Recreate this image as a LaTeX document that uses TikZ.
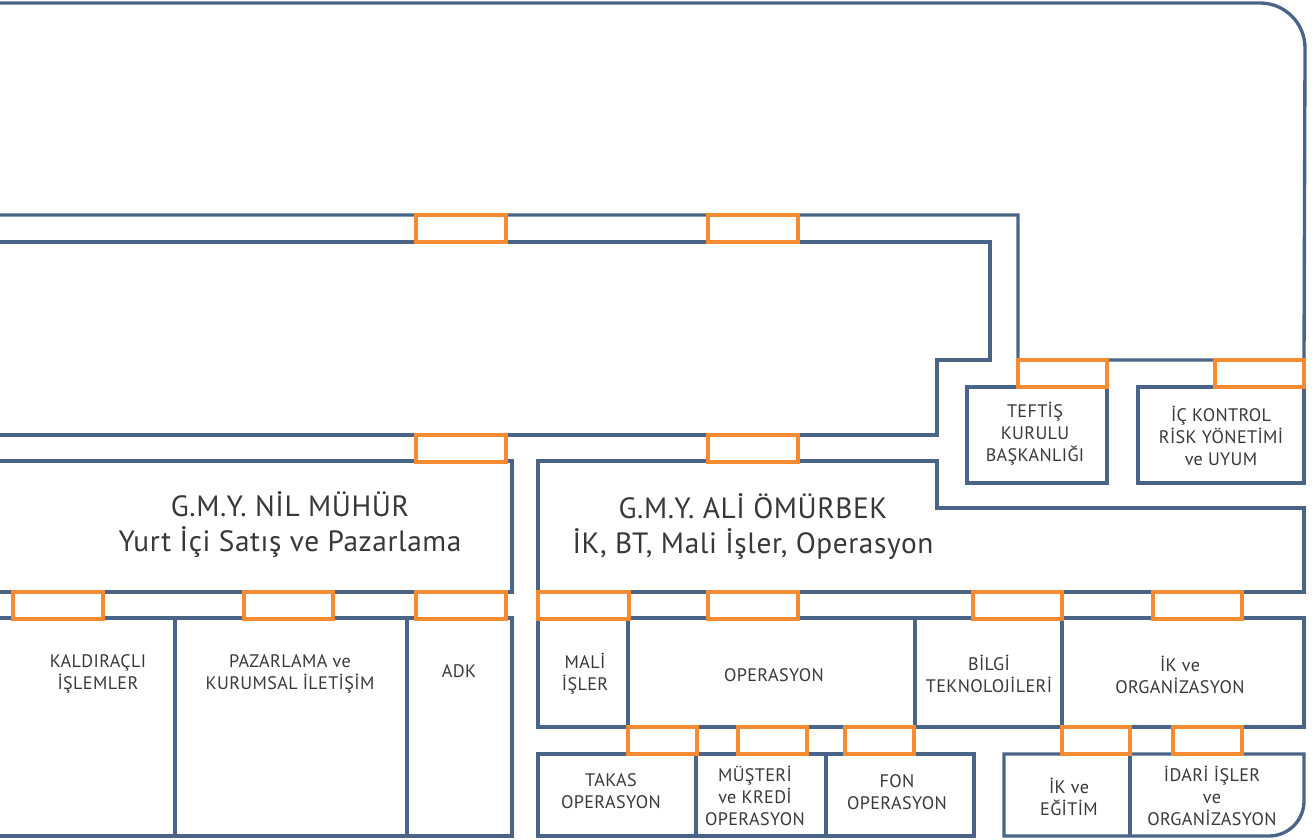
\documentclass[tikz,border=0pt]{standalone}
\usepackage{fontspec}
\setmainfont{PT Sans}[LetterSpace=2]
\definecolor{frameblue}{HTML}{4A6487}
\definecolor{linkorange}{HTML}{F68B32}
\definecolor{txtgray}{HTML}{383838}

\begin{document}
\begin{tikzpicture}[x=0.75pt, y=-0.75pt, line join=miter,
    frame/.style={draw=frameblue, line width=2.5pt},
    link/.style={draw=linkorange, line width=2.4pt, fill=white},
    unit/.style={text=txtgray, align=center, inner sep=0pt, font=\fontsize{13.6}{16.5}\selectfont},
    head/.style={text=txtgray, align=center, inner sep=0pt, font=\fontsize{22}{26.3}\selectfont}]

    \useasboundingbox (0,0) rectangle (1312,839);

    % Define link height
    \def\h{27}

    % Outer frame
    \draw[frame] (0,3) -- (1260,3) arc[start angle=-90, end angle=0, radius=45]
        -- (1304,360) -- (1018,360) -- (1018,215) -- (0,215);
    \draw[frame] (0,242) -- (990,242) -- (990,360) -- (937,360) -- (937,435) -- (0,435);

    % Teftis and ic kontrol
    \draw[frame] (967,387) rectangle (1107,483);
    \draw[frame] (1138,387) rectangle (1304,483);
    \node[unit] (teftis) at (1035,434) {TEFTİŞ\\KURULU\\BAŞKANLIĞI};
    \node[unit] (ickontrol) at (1221,436) {İÇ KONTROL\\RİSK YÖNETİMİ\\ve UYUM};

    % G.M.Y. boxes
    \draw[frame] (0,461) -- (512,461) -- (512,592) -- (0,592);
    \draw[frame] (538,592) -- (538,461) -- (937,461) -- (937,508) -- (1304,508) -- (1304,592) -- cycle;
    \node[head] (nil) at (290,525) {G.M.Y. NİL MÜHÜR\\Yurt İçi Satış ve Pazarlama};
    \node[head] (ali) at (753,527) {G.M.Y. ALİ ÖMÜRBEK\\İK, BT, Mali İşler, Operasyon};

    % Units under Nil Muhur
    \draw[frame] (0,618) -- (512,618) -- (512,836) -- (0,836);
    \draw[frame] (175,618) -- (175,836);
    \draw[frame] (407,618) -- (407,836);
    \node[unit] (kaldiracli) at (98,674) {KALDIRAÇLI\\İŞLEMLER};
    \node[unit] (pazarlama) at (290,674) {PAZARLAMA ve\\KURUMSAL İLETİŞİM};
    \node[unit] (adk) at (459,671) {ADK};

    % Units under Ali Omurbek
    \draw[frame] (538,618) rectangle (1304,727);
    \foreach \xd in {628, 915, 1062}
        \draw[frame] (\xd,618) -- (\xd,727);
    \node[unit] (mali) at (585,674) {MALİ\\İŞLER};
    \node[unit] (operasyon) at (774,675) {OPERASYON};
    \node[unit] (bilgi) at (989,674) {BİLGİ\\TEKNOLOJİLERİ};
    \node[unit] (ikorg) at (1180,675) {İK ve\\ORGANİZASYON};

    % Operasyon teams
    \draw[frame] (538,754) rectangle (974,836);
    \draw[frame] (696,754) -- (696,836);
    \draw[frame] (826,754) -- (826,836);
    \node[unit] (takas) at (611,791) {TAKAS\\OPERASYON};
    \node[unit] (musteri) at (755,796) {MÜŞTERİ\\ve KREDİ\\OPERASYON};
    \node[unit] (fon) at (897,792) {FON\\OPERASYON};

    % IK teams
    \draw[frame] (1004,754) -- (1304,754) -- (1304,801) arc[start angle=0, end angle=90, radius=35]
        -- (1004,836) -- cycle;
    \draw[frame] (1130,754) -- (1130,836);
    \node[unit] (ikegitim) at (1069,797) {İK ve\\EĞİTİM};
    \node[unit] (idari) at (1212,796) {İDARİ İŞLER\\ve\\ORGANİZASYON};

    % Links
    \foreach \xa/\xb/\ya in {416/506/215, 708/798/215, 416/506/435, 708/798/435,
        1018/1107/360, 1215/1304/360,
        13/103/592, 244/333/592, 416/506/592,
        538/629/592, 708/798/592, 973/1062/592, 1153/1242/592,
        628/697/727, 738/807/727, 845/914/727, 1062/1130/727, 1173/1242/727}
        \draw[link] (\xa,\ya) rectangle (\xb,\ya+\h);

\end{tikzpicture}
\end{document}
